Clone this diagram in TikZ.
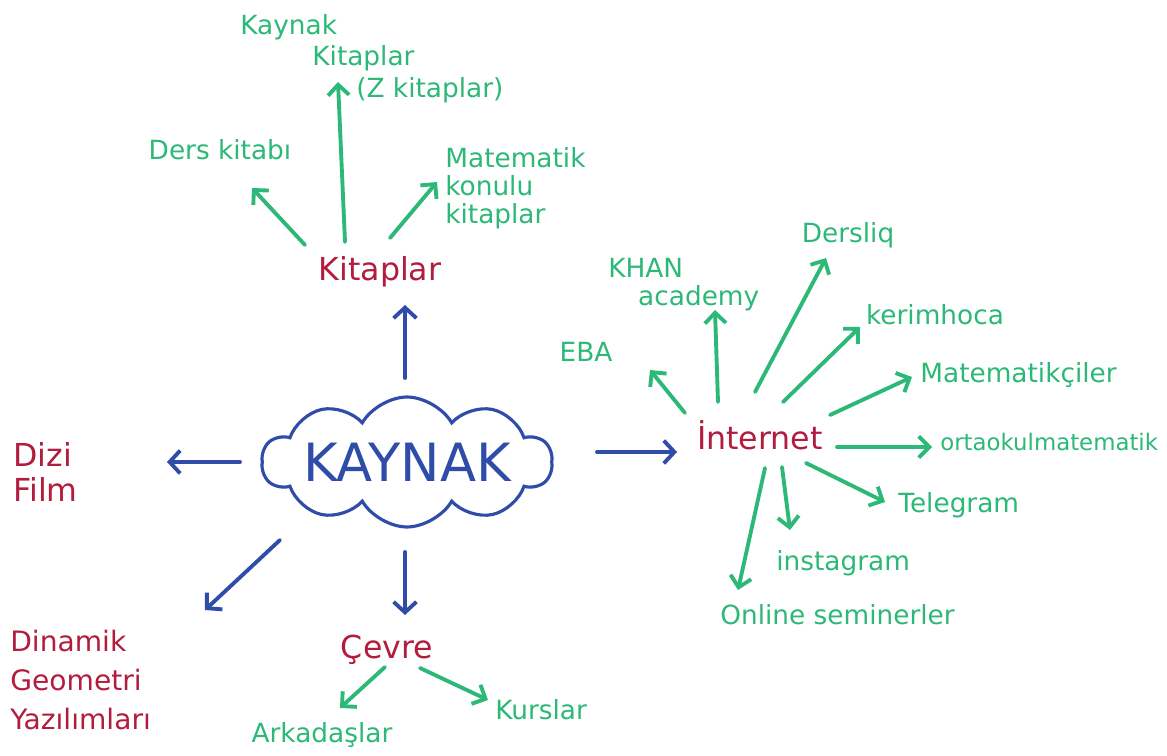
\documentclass[tikz,border=0pt]{standalone}
\usepackage{fontspec}
\setmainfont{DejaVu Sans}
\usetikzlibrary{arrows.meta,calc,shapes.symbols}
\definecolor{leafgreen}{RGB}{44,184,118}
\definecolor{topicred}{RGB}{178,28,62}
\definecolor{rootblue}{RGB}{46,76,168}
\tikzset{
  leaf/.style={text=leafgreen,inner sep=0pt,font=\fontsize{15}{18}\selectfont},
  topic/.style={text=topicred,inner sep=0pt,font=\fontsize{18}{20}\selectfont},
  garrow/.style={draw=leafgreen,line width=2.2pt,line cap=round,
    -{Straight Barb[length=6pt,width=12pt,line width=2.2pt]}},
  barrow/.style={draw=rootblue,line width=2.2pt,line cap=round,
    -{Straight Barb[length=6pt,width=13pt,line width=2.2pt]}},
}
\begin{document}
\begin{tikzpicture}[x=0.02cm,y=-0.02cm]
\useasboundingbox (0,0) rectangle (1167,756);

% central cloud
\node[cloud,draw=rootblue,line width=1.8pt,cloud puffs=10,cloud puff arc=120,
      cloud ignores aspect,minimum width=5.8cm,minimum height=2.6cm,
      inner xsep=-0.25cm,inner ysep=-0.2cm,
      text=rootblue,font=\fontsize{30}{32}\selectfont] (kaynak) at (407,462) {KAYNAK};

% main branches
\node[topic] (kit) at (380,272) {Kitaplar};
\node[topic,align=left,anchor=west,font=\fontsize{18}{20}\selectfont] (dizi) at (13,472) {Dizi\\Film};
\node[topic,align=left,anchor=west,font=\fontsize{16}{22}\selectfont] (dgy) at (10,680) {Dinamik\\Geometri\\Yazılımları};
\node[topic] (cevre) at (387,650) {Çevre};
\node[topic] (inet) at (760,435) {İnternet};

% books
\node[leaf] (ders) at (220,150) {Ders kitabı};
\node[leaf,align=left,anchor=north west] (kk) at (240,14)
  {Kaynak\\\hspace*{41pt}Kitaplar\\\hspace*{66pt}(Z kitaplar)};
\node[leaf,align=left,anchor=west,font=\fontsize{15}{16}\selectfont] (mat) at (445,188)
  {Matematik\\konulu\\kitaplar};

% surroundings
\node[leaf] (ark) at (322,735) {Arkadaşlar};
\node[leaf,anchor=west] (kurs) at (495,710) {Kurslar};

% internet
\node[leaf] (eba) at (586,352) {EBA};
\node[leaf,align=left,anchor=north west,font=\fontsize{15}{16}\selectfont] (khan) at (608,258)
  {KHAN\\\hspace*{17pt}academy};
\node[leaf] (dersliq) at (848,235) {Dersliq};
\node[leaf] (kerim) at (935,315) {kerimhoca};
\node[leaf,anchor=west] (matc) at (920,375) {Matematikçiler};
\node[leaf,anchor=west,font=\fontsize{13}{15}\selectfont] (orta) at (940,442) {ortaokulmatematik};
\node[leaf,anchor=west] (tel) at (898,505) {Telegram};
\node[leaf,anchor=west] (insta) at (776,563) {instagram};
\node[leaf,anchor=west] (online) at (720,615) {Online seminerler};

% blue connectors from the cloud
\draw[barrow] ($(kaynak)+(-2,-84)$) -- ($(kit)+(25,33)$);
\draw[barrow] ($(kaynak)+(-167,0)$) -- ($(dizi.west)+(154,-10)$);
\draw[barrow] ($(kaynak)+(-127,78)$) -- ($(dgy.west)+(195,-70)$);
\draw[barrow] ($(kaynak)+(-2,90)$) -- ($(cevre)+(18,-35)$);
\draw[barrow] ($(kaynak)+(190,-10)$) -- ($(inet)+(-83,17)$);

% green connectors
\draw[garrow] ($(kit)+(-75,-27)$) -- ($(ders)+(32,38)$);
\draw[garrow] ($(kit)+(-35,-30)$) -- ($(kk.north west)+(98,68)$);
\draw[garrow] ($(kit)+(10,-34)$) -- ($(mat.west)+(-8,-6)$);
\draw[garrow] ($(cevre)+(-2,17)$) -- ($(ark)+(18,-27)$);
\draw[garrow] ($(cevre)+(33,18)$) -- ($(kurs.west)+(-7,-10)$);
\draw[garrow] ($(inet)+(-75,-22)$) -- ($(eba)+(64,18)$);
\draw[garrow] ($(inet)+(-42,-33)$) -- ($(khan.north west)+(107,52)$);
\draw[garrow] ($(inet)+(-5,-43)$) -- ($(dersliq)+(-22,23)$);
\draw[garrow] ($(inet)+(23,-33)$) -- ($(kerim)+(-75,12)$);
\draw[garrow] ($(inet)+(70,-20)$) -- ($(matc.west)+(-8,2)$);
\draw[garrow] ($(inet)+(77,12)$) -- ($(orta.west)+(-8,5)$);
\draw[garrow] ($(inet)+(46,28)$) -- ($(tel.west)+(-13,-3)$);
\draw[garrow] ($(inet)+(22,32)$) -- ($(insta.west)+(14,-33)$);
\draw[garrow] ($(inet)+(5,33)$) -- ($(online.west)+(18,-25)$);
\end{tikzpicture}
\end{document}
